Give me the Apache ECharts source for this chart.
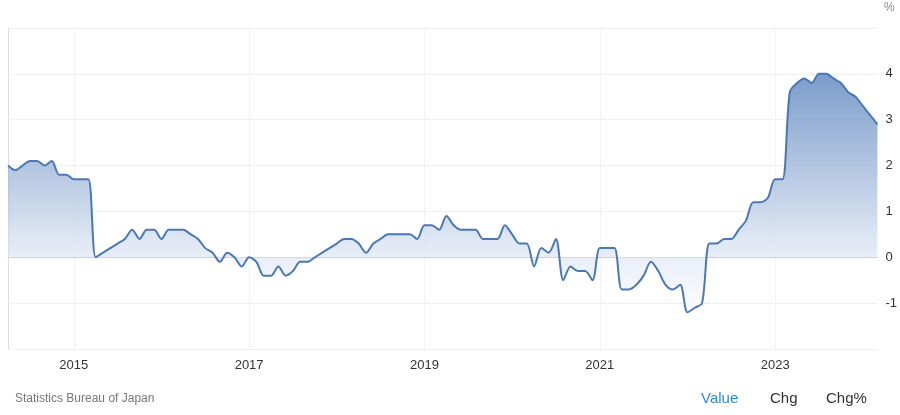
<!DOCTYPE html>
<html><head><meta charset="utf-8">
<script src="https://cdn.jsdelivr.net/npm/echarts@6/dist/echarts.min.js"></script>
<style>html,body{margin:0;padding:0;background:#fff}#c{width:900px;height:415px}</style>
</head><body><div id="c"></div>
<script>
const startYear = 2014, startMonth = 4;
const values = [
 2.0,1.9,2.0,2.1,2.1,2.0,2.1,1.8,1.8,1.7,1.7,1.7,
 0.0,0.1,0.2,0.3,0.4,0.6,0.4,0.6,0.6,0.4,0.6,0.6,
 0.6,0.5,0.4,0.2,0.1,-0.1,0.1,0.0,-0.2,0.0,-0.1,-0.4,
 -0.4,-0.2,-0.4,-0.3,-0.1,-0.1,0.0,0.1,0.2,0.3,0.4,0.4,
 0.3,0.1,0.3,0.4,0.5,0.5,0.5,0.5,0.4,0.7,0.7,0.6,
 0.9,0.7,0.6,0.6,0.6,0.4,0.4,0.4,0.7,0.5,0.3,0.3,
 -0.2,0.2,0.1,0.4,-0.5,-0.2,-0.3,-0.3,-0.5,0.2,0.2,0.2,
 -0.7,-0.7,-0.6,-0.4,-0.1,-0.3,-0.6,-0.7,-0.6,-1.2,-1.1,-1.0,
 0.3,0.3,0.4,0.4,0.6,0.8,1.2,1.2,1.3,1.7,1.7,3.6,
 3.8,3.9,3.8,4.0,4.0,3.9,3.8,3.6,3.5,3.3,3.1,2.9
];
const categories = values.map((v,i)=>{
  const t = startMonth - 1 + i;
  const y = startYear + Math.floor(t/12), m = t%12 + 1;
  return y + '-' + String(m).padStart(2,'0');
});
const yTicks = [-1,0,1,2,3,4];
const yearTicks = ['2015','2017','2019','2021','2023'];
const isTick = (i) => { const c = categories[i]; return c.endsWith('-01') && yearTicks.includes(c.slice(0,4)); };

const chart = echarts.init(document.getElementById('c'));
chart.setOption({
  animation:false,
  grid:{left:8,right:19,top:28,bottom:66},
  xAxis:{type:'category',data:categories,boundaryGap:false,
    axisLine:{lineStyle:{color:'#ccc'}},axisTick:{show:false},
    axisLabel:{interval:(i)=>isTick(i),formatter:(v)=>v.slice(0,4),color:'#333',fontSize:13,margin:10,fontFamily:'Arial, Liberation Sans'},
    splitLine:{show:true,interval:(i)=>isTick(i),lineStyle:{color:'#e6e6e6',type:'dotted'}}},
  yAxis:{type:'value',position:'right',min:-2,max:5,interval:1,
    axisLine:{show:false},axisTick:{show:false},
    axisLabel:{formatter:(v)=>yTicks.includes(v)?String(v):'',color:'#333',fontSize:13,margin:8,fontFamily:'Arial, Liberation Sans'},
    splitLine:{lineStyle:{color:'#e3e3e3',type:'dotted'}}},
  graphic:[
    {type:'line',shape:{x1:8.5,y1:28,x2:8.5,y2:349},style:{stroke:'#ddd'}},
    {type:'text',left:884,top:2,style:{text:'%',fill:'#888',fontSize:12,fontFamily:'Arial, Liberation Sans'}},
    {type:'text',left:15,top:393,style:{text:'Statistics Bureau of Japan',fill:'#777',fontSize:12,fontFamily:'Arial, Liberation Sans'}},
    {type:'text',left:701,top:391,style:{text:'Value',fill:'#2a8ad6',fontSize:15,fontFamily:'Arial, Liberation Sans'}},
    {type:'text',left:770,top:391,style:{text:'Chg',fill:'#333',fontSize:15,fontFamily:'Arial, Liberation Sans'}},
    {type:'text',left:826,top:391,style:{text:'Chg%',fill:'#333',fontSize:15,fontFamily:'Arial, Liberation Sans'}}
  ],
  series:[{type:'line',data:values,smooth:0.3,showSymbol:false,
    lineStyle:{color:'#4a78b5',width:2},
    areaStyle:{origin:0,color:new echarts.graphic.LinearGradient(0,70,0,320,[
      {offset:0,color:'#3e6fb2'},{offset:0.75,color:'#dfe7f3'},{offset:1,color:'#ffffff'}],true)}
  }]
});
</script></body></html>
